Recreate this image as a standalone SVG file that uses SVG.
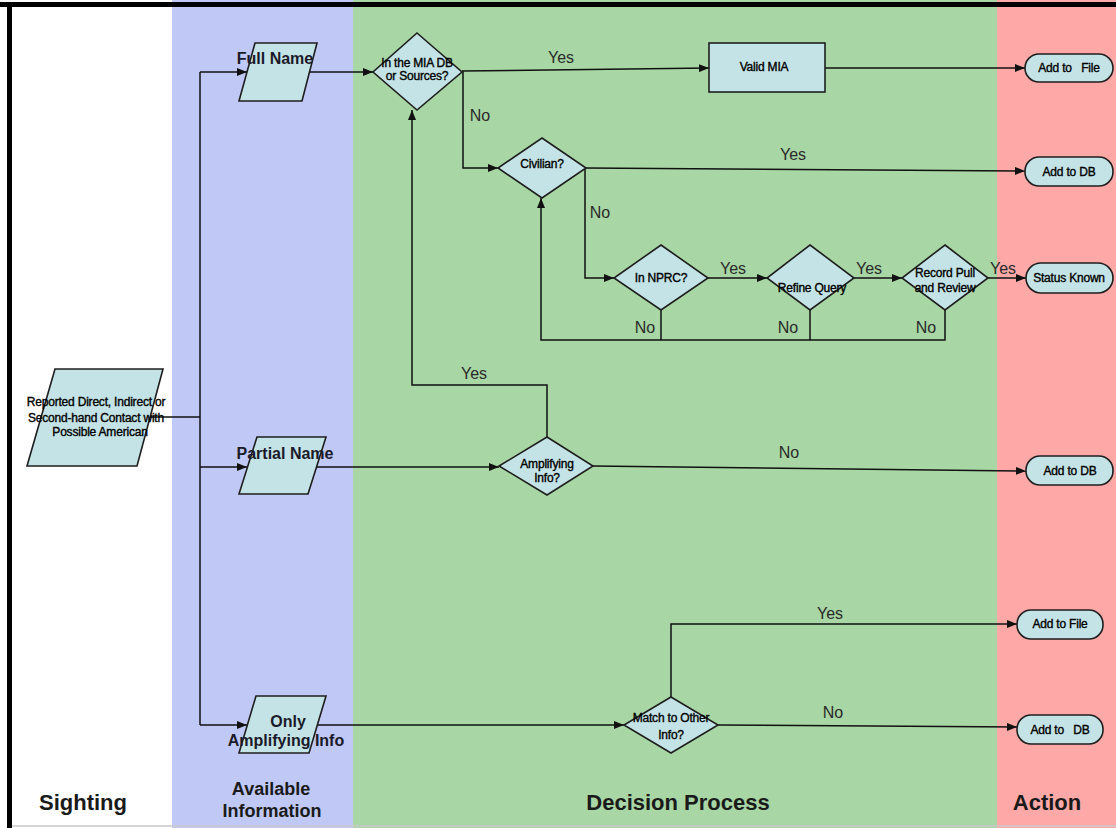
<svg xmlns="http://www.w3.org/2000/svg" width="1116" height="828" viewBox="0 0 1116 828">
<style>
.shape{fill:#c4e3e6;stroke:#1e1e1e;stroke-width:1.6}
.ln{fill:none;stroke:#111;stroke-width:1.5}
.arr{marker-end:url(#ah)}
.t{font-family:"Liberation Sans",Arial,sans-serif;font-size:12px;fill:#000;stroke:#000;stroke-width:0.35;text-anchor:middle;letter-spacing:-0.2px}
.tb{font-family:"Liberation Sans",Arial,sans-serif;font-size:16px;font-weight:bold;fill:#1a1a2a;text-anchor:middle}
.lab{font-family:"Liberation Sans",Arial,sans-serif;font-size:16px;fill:#2a2a2a;text-anchor:middle}
.lane{font-family:"Liberation Sans",Arial,sans-serif;font-weight:bold;fill:#1a1a1a;text-anchor:middle}
</style>
<defs>
<marker id="ah" markerWidth="10" markerHeight="8" refX="10" refY="4" orient="auto" markerUnits="userSpaceOnUse">
<path d="M0,0 L10,4 L0,8 Z" fill="#111"/>
</marker>
</defs>

<g id="lanes">
<rect x="0" y="0" width="1116" height="828" fill="#ffffff"/>
<rect x="172" y="0" width="181" height="828" fill="#c0c8f5"/>
<rect x="353" y="0" width="644" height="828" fill="#a8d6a4"/>
<rect x="997" y="0" width="119" height="828" fill="#fea9a7"/>
<rect x="0" y="2" width="1116" height="5" fill="#000"/>
<rect x="7" y="2" width="5" height="826" fill="#000"/>
<line x1="12" y1="826" x2="1116" y2="826" stroke="#c8c8c8" stroke-width="1.5"/>
<text class="lane" x="83" y="810" font-size="22">Sighting</text>
<text class="lane" x="271" y="795" font-size="18">Available</text>
<text class="lane" x="272" y="817" font-size="18">Information</text>
<text class="lane" x="678" y="810" font-size="22">Decision Process</text>
<text class="lane" x="1047" y="810" font-size="22">Action</text>
</g>

<g id="connectors">
<polyline class="ln" points="150,417 200,417"/>
<polyline class="ln" points="200,72 200,725"/>
<polyline class="ln arr" points="200,72 247,72"/>
<polyline class="ln arr" points="200,467 247,467"/>
<polyline class="ln arr" points="200,725 247,725"/>
<polyline class="ln arr" points="310,72 373,72"/>
<polyline class="ln arr" points="462,71 709,68"/>
<polyline class="ln arr" points="825,68 1025,68"/>
<polyline class="ln arr" points="462,72 463,72 463,168 498,168"/>
<polyline class="ln arr" points="586,168 1025,171"/>
<polyline class="ln arr" points="586,168 585,168 585,278 614,278"/>
<polyline class="ln arr" points="708,278 767,278"/>
<polyline class="ln arr" points="854,278 902,278"/>
<polyline class="ln arr" points="988,278 1026,278"/>
<polyline class="ln" points="661,310 661,340"/>
<polyline class="ln" points="810,310 810,340"/>
<polyline class="ln arr" points="945,310 945,340 541,340 541,198"/>
<polyline class="ln arr" points="316,467 499,467"/>
<polyline class="ln arr" points="547,437 547,385 412,385 412,110"/>
<polyline class="ln arr" points="593,466 1026,471"/>
<polyline class="ln arr" points="317,725 624,725"/>
<polyline class="ln arr" points="671,697 671,624 1017,624"/>
<polyline class="ln arr" points="718,725 1017,727"/>
<text class="lab" x="561" y="63">Yes</text>
<text class="lab" x="480" y="121">No</text>
<text class="lab" x="793" y="160">Yes</text>
<text class="lab" x="600" y="218">No</text>
<text class="lab" x="733" y="274">Yes</text>
<text class="lab" x="869" y="274">Yes</text>
<text class="lab" x="1003" y="274">Yes</text>
<text class="lab" x="645" y="333">No</text>
<text class="lab" x="788" y="333">No</text>
<text class="lab" x="926" y="333">No</text>
<text class="lab" x="474" y="379">Yes</text>
<text class="lab" x="789" y="458">No</text>
<text class="lab" x="830" y="619">Yes</text>
<text class="lab" x="833" y="718">No</text>
</g>

<g id="sighting">
<polygon class="shape" points="55,369 163,369 137,466 27,466"/>
<text class="t" x="96" y="406">Reported Direct, Indirect or</text>
<text class="t" x="96" y="422">Second-hand Contact with</text>
<text class="t" x="100" y="436">Possible American</text>
</g>

<g id="full-name">
<polygon class="shape" points="255,43 317,43 302,101 239,101"/>
<text class="tb" x="275" y="64">Full Name</text>
</g>

<g id="partial-name">
<polygon class="shape" points="257,437 326,437 308,494 239,494"/>
<text class="tb" x="285" y="459">Partial Name</text>
</g>

<g id="only-amplifying">
<polygon class="shape" points="256,696 326,696 309,753 239,753"/>
<text class="tb" x="288" y="727">Only</text>
<text class="tb" x="286" y="746">Amplifying Info</text>
</g>

<g id="in-mia-db">
<polygon class="shape" points="417,33 462,72 417,110 373,72"/>
<text class="t" x="417" y="67">In the MIA DB</text>
<text class="t" x="417" y="80">or Sources?</text>
</g>

<g id="valid-mia">
<rect class="shape" x="709" y="43" width="116" height="49"/>
<text class="t" x="764" y="71">Valid MIA</text>
</g>

<g id="civilian">
<polygon class="shape" points="542,138 586,168 542,198 498,168"/>
<text class="t" x="542" y="168">Civilian?</text>
</g>

<g id="in-nprc">
<polygon class="shape" points="661,245 708,278 661,310 614,278"/>
<text class="t" x="661" y="282">In NPRC?</text>
</g>

<g id="refine-query">
<polygon class="shape" points="810,245 854,278 810,310 767,278"/>
<text class="t" x="812" y="292">Refine Query</text>
</g>

<g id="record-pull">
<polygon class="shape" points="945,245 988,278 945,310 902,278"/>
<text class="t" x="945" y="277">Record Pull</text>
<text class="t" x="945" y="292">and Review</text>
</g>

<g id="amplifying-info">
<polygon class="shape" points="547,437 593,466 547,495 499,466"/>
<text class="t" x="547" y="468">Amplifying</text>
<text class="t" x="547" y="482">Info?</text>
</g>

<g id="match-other">
<polygon class="shape" points="671,697 718,725 671,753 624,725"/>
<text class="t" x="671" y="722">Match to Other</text>
<text class="t" x="671" y="739">Info?</text>
</g>

<g id="add-file-1">
<rect class="shape" x="1025" y="54" width="88" height="28" rx="14"/>
<text class="t" x="1069" y="72" style="white-space:pre">Add to   File</text>
</g>

<g id="add-db-1">
<rect class="shape" x="1025" y="157" width="88" height="29" rx="14"/>
<text class="t" x="1069" y="176">Add to DB</text>
</g>

<g id="status-known">
<rect class="shape" x="1026" y="263" width="87" height="30" rx="15"/>
<text class="t" x="1069" y="282">Status Known</text>
</g>

<g id="add-db-2">
<rect class="shape" x="1026" y="456" width="87" height="29" rx="14"/>
<text class="t" x="1070" y="475">Add to DB</text>
</g>

<g id="add-file-2">
<rect class="shape" x="1017" y="610" width="86" height="29" rx="14"/>
<text class="t" x="1060" y="628">Add to File</text>
</g>

<g id="add-db-3">
<rect class="shape" x="1017" y="715" width="86" height="29" rx="14"/>
<text class="t" x="1060" y="734" style="white-space:pre">Add to   DB</text>
</g>
</svg>
